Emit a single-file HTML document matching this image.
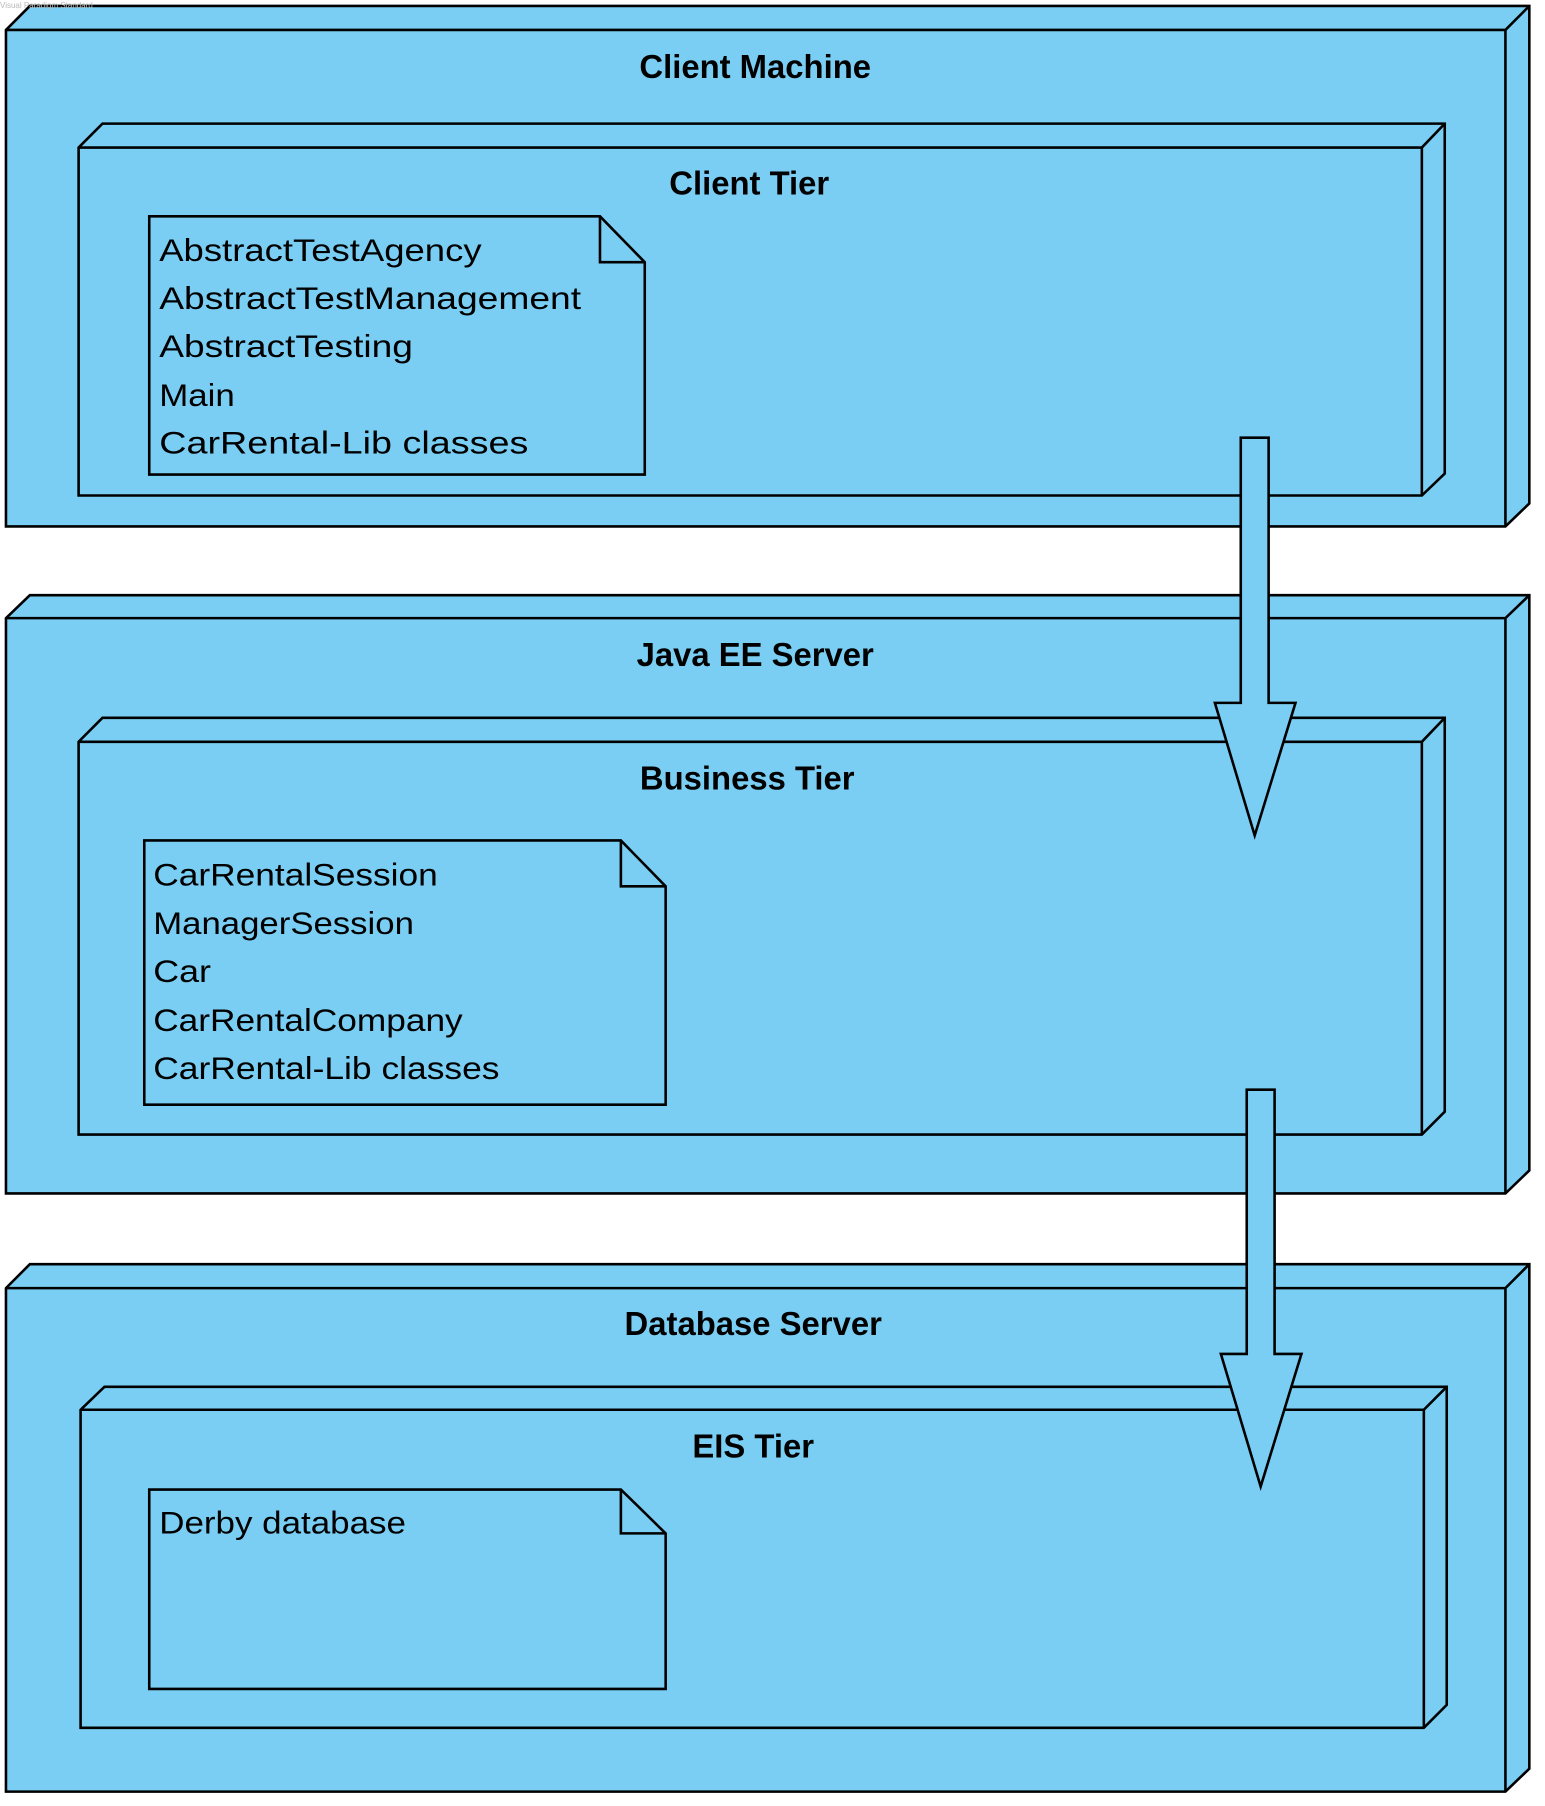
<!DOCTYPE html>
<html><head><meta charset="utf-8"><style>html,body{margin:0;padding:0;background:#fff}svg{display:block}</style></head>
<body>
<svg width="1545" height="1806" viewBox="0 0 1545 1806" xmlns="http://www.w3.org/2000/svg" font-family="Liberation Sans, sans-serif">
<g transform="scale(0.995,0.997)">
<g fill="#7ACEF3" stroke="#000" stroke-width="2.6" stroke-linejoin="miter">
<path d="M6,30 L30,6 L1537,6 L1537,505 L1513,528 L6,528 Z"/>
<path d="M6,30 L1513,30 L1537,6 M1513,30 L1513,528" fill="none"/>
<path d="M79,148 L103,124 L1452,124 L1452,475 L1429,497 L79,497 Z"/>
<path d="M79,148 L1429,148 L1452,124 M1429,148 L1429,497" fill="none"/>
<path d="M150,217 L603,217 L648,263 L648,476 L150,476 Z"/>
<path d="M603,217 L603,263 L648,263" fill="none"/>
<path d="M6,620 L30,597 L1537,597 L1537,1174 L1513,1197 L6,1197 Z"/>
<path d="M6,620 L1513,620 L1537,597 M1513,620 L1513,1197" fill="none"/>
<path d="M79,744 L103,720 L1452,720 L1452,1115 L1429,1138 L79,1138 Z"/>
<path d="M79,744 L1429,744 L1452,720 M1429,744 L1429,1138" fill="none"/>
<path d="M145,843 L624,843 L669,889 L669,1108 L145,1108 Z"/>
<path d="M624,843 L624,889 L669,889" fill="none"/>
<path d="M6,1292 L30,1268 L1537,1268 L1537,1774 L1513,1797 L6,1797 Z"/>
<path d="M6,1292 L1513,1292 L1537,1268 M1513,1292 L1513,1797" fill="none"/>
<path d="M81,1414 L105,1391 L1454,1391 L1454,1710 L1431,1733 L81,1733 Z"/>
<path d="M81,1414 L1431,1414 L1454,1391 M1431,1414 L1431,1733" fill="none"/>
<path d="M150,1494 L624,1494 L669,1538 L669,1694 L150,1694 Z"/>
<path d="M624,1494 L624,1538 L669,1538" fill="none"/>
<path d="M1247,439 L1275,439 L1275,705 L1302,705 L1261,838 L1221,705 L1247,705 Z"/>
<path d="M1253,1093 L1281,1093 L1281,1358 L1308,1358 L1267,1491 L1227,1358 L1253,1358 Z"/>
</g>
<g font-weight="bold" font-size="33" text-anchor="middle" fill="#000">
<text x="759" y="78">Client Machine</text>
<text x="753" y="195">Client Tier</text>
<text x="759" y="668">Java EE Server</text>
<text x="751" y="792">Business Tier</text>
<text x="757" y="1339">Database Server</text>
<text x="757" y="1462">EIS Tier</text>
</g>
<g font-size="32" fill="#000">
<text x="160" y="262" textLength="324" lengthAdjust="spacingAndGlyphs">AbstractTestAgency</text>
<text x="160" y="310" textLength="424" lengthAdjust="spacingAndGlyphs">AbstractTestManagement</text>
<text x="160" y="358" textLength="255" lengthAdjust="spacingAndGlyphs">AbstractTesting</text>
<text x="160" y="407" textLength="76" lengthAdjust="spacingAndGlyphs">Main</text>
<text x="160" y="455" textLength="371" lengthAdjust="spacingAndGlyphs">CarRental-Lib classes</text>
<text x="154" y="888" textLength="286" lengthAdjust="spacingAndGlyphs">CarRentalSession</text>
<text x="154" y="937" textLength="262" lengthAdjust="spacingAndGlyphs">ManagerSession</text>
<text x="154" y="985" textLength="58" lengthAdjust="spacingAndGlyphs">Car</text>
<text x="154" y="1034" textLength="311" lengthAdjust="spacingAndGlyphs">CarRentalCompany</text>
<text x="154" y="1082" textLength="348" lengthAdjust="spacingAndGlyphs">CarRental-Lib classes</text>
<text x="160" y="1538" textLength="248" lengthAdjust="spacingAndGlyphs">Derby database</text>
</g>
</g>
<text x="0" y="8" font-size="8" fill="#bbb">Visual Paradigm Standard</text>
</svg>
</body></html>
